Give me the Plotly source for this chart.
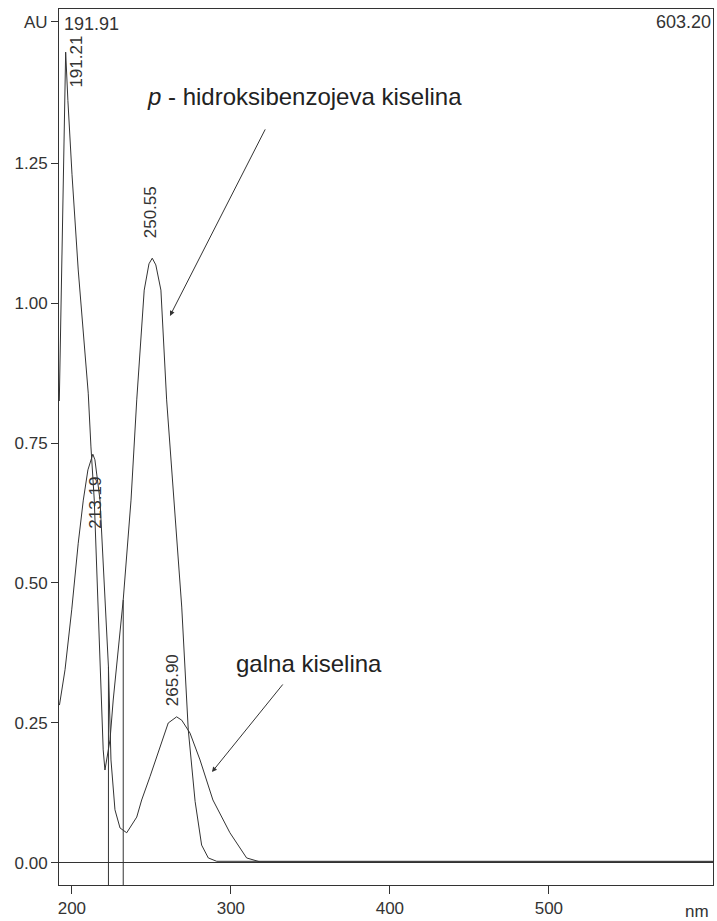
import plotly.graph_objects as go

# UV spectra (nm, AU)
phba_nm = [192.1, 193.6, 196.1, 197.5, 200.1, 204.0, 210.3, 212.0, 214.1, 219.7, 220.8,
           224.0, 226.0, 232.3, 237.2, 240.8, 245.5, 248.5, 250.55, 252.8, 256.0, 259.6,
           264.2, 269.1, 273.2, 277.5, 281.6, 285.8, 291.1, 603.2]
phba_au = [0.825, 1.059, 1.448, 1.362, 1.229, 1.059, 0.839, 0.743, 0.648, 0.202, 0.166,
           0.220, 0.291, 0.470, 0.648, 0.827, 1.023, 1.070, 1.080, 1.068, 1.023, 0.827,
           0.648, 0.457, 0.238, 0.110, 0.032, 0.009, 0.003, 0.003]

galna_nm = [192.2, 195.7, 199.9, 204.0, 207.2, 210.1, 213.19, 214.5, 217.7, 221.4, 223.0,
            224.6, 227.1, 230.3, 234.5, 240.8, 243.9, 249.1, 255.4, 260.6, 265.9, 269.1,
            274.3, 280.6, 288.7, 299.4, 309.9, 318.3, 603.2]
galna_au = [0.282, 0.345, 0.452, 0.571, 0.648, 0.702, 0.730, 0.720, 0.648, 0.420, 0.350,
            0.184, 0.095, 0.0625, 0.054, 0.082, 0.1125, 0.154, 0.207, 0.250, 0.261, 0.255,
            0.232, 0.184, 0.1125, 0.054, 0.009, 0.002, 0.002]

# peak labels
peak_text = ["191.21", "213.19", "250.55", "265.90"]
peak_x = [203.2, 215.0, 249.3, 263.8]
peak_y = [1.431, 0.643, 1.1625, 0.327]

# vertical markers
mark_nm = [223.0, 232.3]
mark_top = [0.35, 0.47]

y_ticks = [0, 0.25, 0.5, 0.75, 1.0, 1.25, 1.502]
y_ticktext = ["0.00", "0.25", "0.50", "0.75", "1.00", "1.25", "AU"]
x_ticks = [200, 300, 400, 500]

FONT = "Liberation Sans, Arial, sans-serif"
INK = "#333333"

fig = go.Figure()
fig.add_trace(go.Scatter(x=phba_nm, y=phba_au, mode="lines",
                         line=dict(color=INK, width=1), hoverinfo="skip"))
fig.add_trace(go.Scatter(x=galna_nm, y=galna_au, mode="lines",
                         line=dict(color=INK, width=1), hoverinfo="skip"))

vx, vy = [], []
for n, t in zip(mark_nm, mark_top):
    vx += [n, n, None]
    vy += [t, -0.05, None]
fig.add_trace(go.Scatter(x=vx, y=vy, mode="lines",
                         line=dict(color=INK, width=1), hoverinfo="skip"))

for t, x, y in zip(peak_text, peak_x, peak_y):
    fig.add_annotation(x=x, y=y, text=t, textangle=-90, showarrow=False,
                       xanchor="center", yanchor="middle",
                       font=dict(size=17, color=INK, family=FONT))

# compound labels + arrows
fig.add_annotation(x=346.6, y=1.368, text="<i>p</i> - hidroksibenzojeva kiselina",
                   showarrow=False, font=dict(size=24, color="#222", family=FONT))
fig.add_annotation(x=261.7, y=0.977, text="", showarrow=True, ax=96, ay=-188,
                   arrowhead=2, arrowsize=1, arrowwidth=1, arrowcolor=INK)
fig.add_annotation(x=349.4, y=0.357, text="galna kiselina",
                   showarrow=False, font=dict(size=24, color="#222", family=FONT))
fig.add_annotation(x=288.1, y=0.1625, text="", showarrow=True, ax=72, ay=-89,
                   arrowhead=2, arrowsize=1, arrowwidth=1, arrowcolor=INK)

# range labels on top, axis unit
fig.add_annotation(xref="paper", yref="paper", x=0.005, y=0.983, text="191.91",
                   showarrow=False, xanchor="left", yanchor="middle",
                   font=dict(size=18, color=INK, family=FONT))
fig.add_annotation(xref="paper", yref="paper", x=1.0, y=0.985, text="603.20",
                   showarrow=False, xanchor="right", yanchor="middle",
                   font=dict(size=18, color=INK, family=FONT))
fig.add_annotation(xref="paper", yref="paper", x=0.997, y=-0.03, text="nm",
                   showarrow=False, xanchor="right", yanchor="middle",
                   font=dict(size=17, color=INK, family=FONT))

fig.update_xaxes(range=[191.91, 603.20], tickvals=x_ticks, ticks="outside", ticklen=8,
                 tickcolor=INK, showline=True, linecolor=INK, linewidth=1, mirror=True,
                 showgrid=False, zeroline=False,
                 tickfont=dict(size=17, color=INK, family=FONT))
fig.update_yaxes(range=[-0.0393, 1.525], tickvals=y_ticks, ticktext=y_ticktext,
                 ticks="outside", ticklen=7, tickcolor=INK, showline=True,
                 linecolor=INK, linewidth=1, mirror=True, showgrid=False,
                 zeroline=True, zerolinecolor=INK, zerolinewidth=1,
                 tickfont=dict(size=17, color=INK, family=FONT))

fig.update_layout(width=717, height=921, showlegend=False,
                  margin=dict(l=59, r=4, t=9, b=36),
                  plot_bgcolor="white", paper_bgcolor="white")

fig.write_html("out.html", config={"displayModeBar": False},
               post_script="document.body.style.margin='0';")
